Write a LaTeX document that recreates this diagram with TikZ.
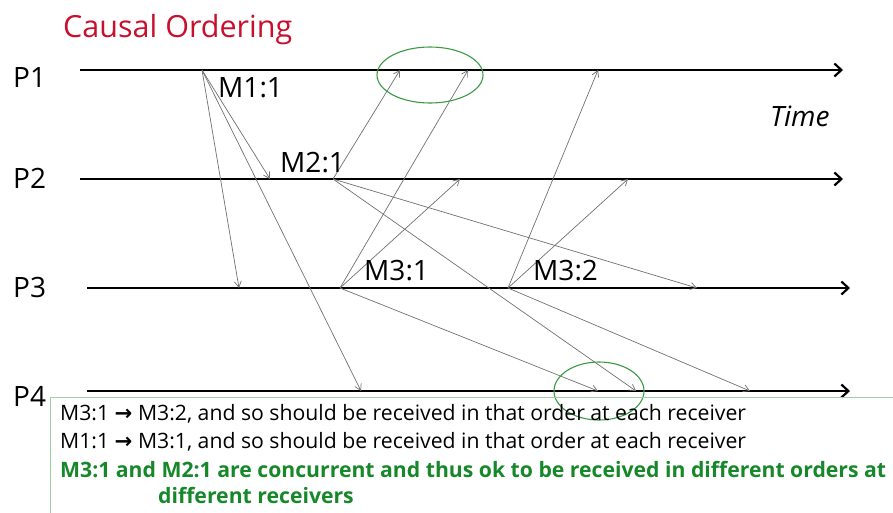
\documentclass[tikz,border=0pt]{standalone}
\usepackage{fontspec}
\setmainfont{Open Sans}
\newfontfamily\symfont{DejaVu Sans}
\usetikzlibrary{arrows.meta}
\definecolor{titlered}{HTML}{C8102E}
\definecolor{okgreen}{HTML}{16882A}
\definecolor{ringgreen}{HTML}{3A9A44}
\definecolor{boxgreen}{HTML}{9AD39F}
\definecolor{msggray}{HTML}{707070}
\tikzset{
  timeline/.style={line width=2.2pt, -{Straight Barb[length=7pt,width=13pt,line width=2.2pt]}},
  msg/.style={draw=msggray, line width=0.7pt, -{Straight Barb[length=6pt,width=7pt]}},
  ring/.style={draw=ringgreen, line width=1.1pt},
  lbl/.style={inner sep=0pt, anchor=base west, font=\fontsize{28}{31}\selectfont},
  body/.style={inner sep=0pt, anchor=base west, font=\fontsize{21.2}{25}\selectfont},
}
\begin{document}
\begin{tikzpicture}[x=1pt, y=-1pt]
\useasboundingbox (0,0) rectangle (893,512);
\clip (0,0) rectangle (893,512);
% title and labels
\node[lbl, text=titlered, font=\fontsize{30.5}{33}\selectfont] (title) at (63,37) {Causal Ordering};
\node[lbl] (p1) at (13,87) {P1};
\node[lbl] (p2) at (13,188) {P2};
\node[lbl] (p3) at (13,297) {P3};
\node[lbl] (p4) at (13,406) {P4};
\node[lbl, font=\fontsize{28}{31}\selectfont\itshape] (time) at (770,126) {Time};
% timelines
\coordinate (p1s) at (80,70);  \coordinate (p1e) at (843,70);
\coordinate (p2s) at (80,179); \coordinate (p2e) at (843,179);
\coordinate (p3s) at (87,288); \coordinate (p3e) at (850,288);
\coordinate (p4s) at (87,391); \coordinate (p4e) at (850,391);
\draw[timeline] (p1s) -- (p1e);
\draw[timeline] (p2s) -- (p2e);
\draw[timeline] (p3s) -- (p3e);
\draw[timeline] (p4s) -- (p4e);
% send events
\coordinate (m11) at (202,70);
\coordinate (m21) at (333,179);
\coordinate (m31) at (340,288);
\coordinate (m32) at (508,288);
% receive events
\coordinate (r11a) at (270,179);
\coordinate (r11b) at (239,288);
\coordinate (r11c) at (361,391);
\coordinate (r21a) at (400,70);
\coordinate (r21b) at (697,288);
\coordinate (r21c) at (636,391);
\coordinate (r31a) at (468,70);
\coordinate (r31b) at (460,179);
\coordinate (r31c) at (598,391);
\coordinate (r32a) at (598,70);
\coordinate (r32b) at (628,179);
\coordinate (r32c) at (750,391);
% messages
\draw[msg] (m11) -- (r11a);
\draw[msg] (m11) -- (r11b);
\draw[msg] (m11) -- (r11c);
\draw[msg] (m21) -- (r21a);
\draw[msg] (m21) -- (r21b);
\draw[msg] (m21) -- (r21c);
\draw[msg] (m31) -- (r31a);
\draw[msg] (m31) -- (r31b);
\draw[msg] (m31) -- (r31c);
\draw[msg] (m32) -- (r32a);
\draw[msg] (m32) -- (r32b);
\draw[msg] (m32) -- (r32c);
% message labels
\node[lbl] (l11) at (218,97) {M1:1};
\node[lbl] (l21) at (280,172) {M2:1};
\node[lbl] (l31) at (364,280) {M3:1};
\node[lbl] (l32) at (533,280) {M3:2};
% rings
\draw[ring] (430,75) ellipse [x radius=53pt, y radius=28pt];
\draw[ring] (599,391) ellipse [x radius=45pt, y radius=29pt];
% text box
\draw[draw=boxgreen, line width=1pt] (50,397) rectangle (900,520);
\node[body] (t1) at (60,420) {M3:1 {\symfont\bfseries →} M3:2, and so should be received in that order at each receiver};
\node[body] (t2) at (60,448) {M1:1 {\symfont\bfseries →} M3:1, and so should be received in that order at each receiver};
\node[body, text=okgreen, font=\fontsize{21.2}{25}\selectfont\bfseries] (t3) at (60,477) {M3:1 and M2:1 are concurrent and thus ok to be received in different orders at};
\node[body, text=okgreen, font=\fontsize{21.2}{25}\selectfont\bfseries] (t4) at (158,503) {different receivers};
\end{tikzpicture}
\end{document}
